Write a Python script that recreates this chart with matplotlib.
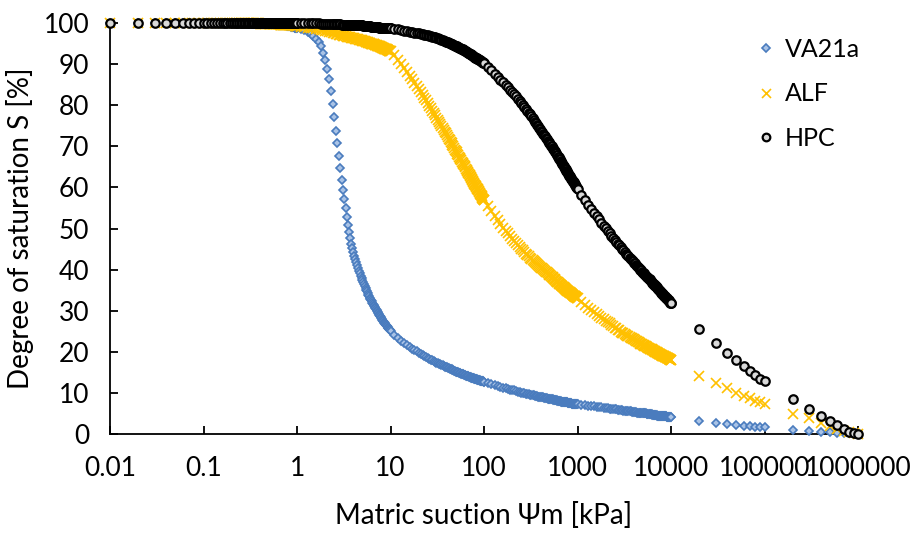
import matplotlib
matplotlib.use("Agg")
import matplotlib.pyplot as plt

plt.rcParams['font.family'] = ['Lato', 'DejaVu Sans']

# Matric suction values (kPa)
psi_kpa = [
    0.01, 0.02, 0.03, 0.04, 0.05, 0.06, 0.07, 0.08, 0.09,
    0.10, 0.11, 0.12, 0.13, 0.14, 0.15, 0.16, 0.17, 0.18, 0.19,
    0.20, 0.21, 0.22, 0.23, 0.24, 0.25, 0.26, 0.27, 0.28, 0.29,
    0.30, 0.31, 0.32, 0.33, 0.34, 0.35, 0.36, 0.37, 0.38, 0.39,
    0.40, 0.41, 0.42, 0.43, 0.44, 0.45, 0.46, 0.47, 0.48, 0.49,
    0.50, 0.51, 0.52, 0.53, 0.54, 0.55, 0.56, 0.57, 0.58, 0.59,
    0.60, 0.61, 0.62, 0.63, 0.64, 0.65, 0.66, 0.67, 0.68, 0.69,
    0.70, 0.71, 0.72, 0.73, 0.74, 0.75, 0.76, 0.77, 0.78, 0.79,
    0.80, 0.81, 0.82, 0.83, 0.84, 0.85, 0.86, 0.87, 0.88, 0.89,
    0.90, 0.91, 0.92, 0.93, 0.94, 0.95, 0.96, 0.97, 0.98, 0.99,
    1.0, 1.1, 1.2, 1.3, 1.4, 1.5, 1.6, 1.7, 1.8, 1.9,
    2.0, 2.1, 2.2, 2.3, 2.4, 2.5, 2.6, 2.7, 2.8, 2.9,
    3.0, 3.1, 3.2, 3.3, 3.4, 3.5, 3.6, 3.7, 3.8, 3.9,
    4.0, 4.1, 4.2, 4.3, 4.4, 4.5, 4.6, 4.7, 4.8, 4.9,
    5.0, 5.1, 5.2, 5.3, 5.4, 5.5, 5.6, 5.7, 5.8, 5.9,
    6.0, 6.1, 6.2, 6.3, 6.4, 6.5, 6.6, 6.7, 6.8, 6.9,
    7.0, 7.1, 7.2, 7.3, 7.4, 7.5, 7.6, 7.7, 7.8, 7.9,
    8.0, 8.1, 8.2, 8.3, 8.4, 8.5, 8.6, 8.7, 8.8, 8.9,
    9.0, 9.1, 9.2, 9.3, 9.4, 9.5, 9.6, 9.7, 9.8, 9.9,
    10, 11, 12, 13, 14, 15, 16, 17, 18, 19,
    20, 21, 22, 23, 24, 25, 26, 27, 28, 29,
    30, 31, 32, 33, 34, 35, 36, 37, 38, 39,
    40, 41, 42, 43, 44, 45, 46, 47, 48, 49,
    50, 51, 52, 53, 54, 55, 56, 57, 58, 59,
    60, 61, 62, 63, 64, 65, 66, 67, 68, 69,
    70, 71, 72, 73, 74, 75, 76, 77, 78, 79,
    80, 81, 82, 83, 84, 85, 86, 87, 88, 89,
    90, 91, 92, 93, 94, 95, 96, 97, 98, 99,
    100, 110, 120, 130, 140, 150, 160, 170, 180, 190,
    200, 210, 220, 230, 240, 250, 260, 270, 280, 290,
    300, 310, 320, 330, 340, 350, 360, 370, 380, 390,
    400, 410, 420, 430, 440, 450, 460, 470, 480, 490,
    500, 510, 520, 530, 540, 550, 560, 570, 580, 590,
    600, 610, 620, 630, 640, 650, 660, 670, 680, 690,
    700, 710, 720, 730, 740, 750, 760, 770, 780, 790,
    800, 810, 820, 830, 840, 850, 860, 870, 880, 890,
    900, 910, 920, 930, 940, 950, 960, 970, 980, 990,
    1000, 1100, 1200, 1300, 1400, 1500, 1600, 1700, 1800, 1900,
    2000, 2100, 2200, 2300, 2400, 2500, 2600, 2700, 2800, 2900,
    3000, 3100, 3200, 3300, 3400, 3500, 3600, 3700, 3800, 3900,
    4000, 4100, 4200, 4300, 4400, 4500, 4600, 4700, 4800, 4900,
    5000, 5100, 5200, 5300, 5400, 5500, 5600, 5700, 5800, 5900,
    6000, 6100, 6200, 6300, 6400, 6500, 6600, 6700, 6800, 6900,
    7000, 7100, 7200, 7300, 7400, 7500, 7600, 7700, 7800, 7900,
    8000, 8100, 8200, 8300, 8400, 8500, 8600, 8700, 8800, 8900,
    9000, 9100, 9200, 9300, 9400, 9500, 9600, 9700, 9800, 9900,
    10000,
    20000, 30000, 40000, 50000, 60000, 70000, 80000, 90000, 100000,
    200000, 300000, 400000, 500000, 600000, 700000, 800000, 900000, 1000000,
]

# Degree of saturation (%) - VA21a
s_va21a = [
    100, 100, 100, 100, 100, 100, 100, 100, 100,
    100, 100, 100, 100, 100, 100, 100, 100, 100, 100,
    100, 100, 100, 100, 100, 100, 100, 100, 100, 100,
    100, 100, 100, 100, 100, 100, 100, 100, 100, 100,
    99.9, 99.9, 99.9, 99.9, 99.9, 99.8, 99.8, 99.8, 99.8, 99.8,
    99.8, 99.7, 99.7, 99.7, 99.7, 99.7, 99.7, 99.7, 99.7, 99.7,
    99.7, 99.6, 99.6, 99.6, 99.6, 99.6, 99.6, 99.6, 99.6, 99.6,
    99.6, 99.5, 99.5, 99.5, 99.5, 99.4, 99.4, 99.4, 99.4, 99.3,
    99.3, 99.3, 99.3, 99.2, 99.2, 99.2, 99.2, 99.1, 99.1, 99.1,
    99.1, 99.0, 99.0, 99.0, 99.0, 98.9, 98.9, 98.9, 98.9, 98.8,
    98.8, 98.5, 98.2, 97.8, 97.3, 96.8, 96.2, 95.4, 94.3, 92.8,
    90.9, 88.9, 86.5, 83.5, 80.2, 77.1, 73.8, 70.7, 67.7, 64.7,
    61.9, 59.4, 57.1, 54.9, 52.8, 50.9, 49.2, 47.7, 46.3, 45.2,
    44.2, 43.4, 42.6, 41.8, 41.1, 40.4, 39.7, 39.1, 38.5, 37.9,
    37.4, 36.9, 36.4, 35.9, 35.5, 35.1, 34.7, 34.3, 33.9, 33.5,
    33.2, 32.9, 32.6, 32.3, 32.0, 31.7, 31.4, 31.1, 30.9, 30.6,
    30.4, 30.1, 29.9, 29.7, 29.5, 29.2, 29.0, 28.8, 28.6, 28.4,
    28.2, 28.0, 27.8, 27.6, 27.5, 27.3, 27.1, 26.9, 26.8, 26.6,
    26.5, 26.3, 26.2, 26.0, 25.9, 25.7, 25.6, 25.5, 25.4, 25.2,
    25.0, 24.1, 23.3, 22.7, 22.1, 21.6, 21.1, 20.8, 20.4, 20.1,
    19.8, 19.5, 19.3, 19.0, 18.8, 18.5, 18.3, 18.1, 17.9, 17.8,
    17.6, 17.4, 17.2, 17.1, 17.0, 16.8, 16.7, 16.6, 16.4, 16.3,
    16.2, 16.1, 16.0, 15.9, 15.8, 15.7, 15.6, 15.5, 15.4, 15.3,
    15.2, 15.1, 15.1, 15.0, 14.9, 14.8, 14.8, 14.7, 14.6, 14.5,
    14.5, 14.4, 14.4, 14.3, 14.2, 14.2, 14.1, 14.0, 14.0, 13.9,
    13.9, 13.8, 13.8, 13.7, 13.7, 13.6, 13.6, 13.6, 13.6, 13.5,
    13.5, 13.4, 13.4, 13.3, 13.3, 13.2, 13.2, 13.1, 13.1, 13.1,
    13.1, 13.0, 13.0, 12.9, 12.9, 12.8, 12.8, 12.8, 12.8, 12.7,
    12.7, 12.4, 12.2, 11.9, 11.7, 11.5, 11.3, 11.1, 11.0, 10.8,
    10.7, 10.6, 10.4, 10.3, 10.2, 10.1, 10.0, 9.9, 9.8, 9.7,
    9.7, 9.6, 9.5, 9.4, 9.4, 9.3, 9.2, 9.2, 9.1, 9.0,
    9.0, 9.0, 8.9, 8.9, 8.8, 8.8, 8.7, 8.7, 8.6, 8.6,
    8.6, 8.5, 8.5, 8.4, 8.4, 8.3, 8.3, 8.3, 8.2, 8.2,
    8.2, 8.1, 8.1, 8.0, 8.0, 8.0, 8.0, 7.9, 7.9, 7.9,
    7.9, 7.8, 7.8, 7.8, 7.8, 7.7, 7.7, 7.7, 7.7, 7.6,
    7.6, 7.6, 7.6, 7.5, 7.5, 7.5, 7.5, 7.4, 7.4, 7.4,
    7.4, 7.4, 7.4, 7.3, 7.3, 7.3, 7.3, 7.3, 7.3, 7.3,
    7.3, 7.1, 7.0, 6.9, 6.8, 6.7, 6.6, 6.5, 6.5, 6.4,
    6.3, 6.3, 6.2, 6.1, 6.1, 6.0, 6.0, 5.9, 5.9, 5.8,
    5.8, 5.7, 5.7, 5.6, 5.6, 5.6, 5.5, 5.5, 5.4, 5.4,
    5.4, 5.3, 5.3, 5.2, 5.2, 5.2, 5.2, 5.1, 5.1, 5.1,
    5.1, 5.0, 5.0, 5.0, 5.0, 4.9, 4.9, 4.9, 4.9, 4.8,
    4.8, 4.8, 4.8, 4.7, 4.7, 4.7, 4.7, 4.6, 4.6, 4.6,
    4.6, 4.5, 4.5, 4.5, 4.5, 4.5, 4.5, 4.4, 4.4, 4.4,
    4.4, 4.4, 4.4, 4.3, 4.3, 4.3, 4.3, 4.3, 4.3, 4.3,
    4.2, 4.2, 4.2, 4.2, 4.2, 4.2, 4.1, 4.1, 4.1, 4.1,
    4.1,
    3.2, 2.8, 2.4, 2.1, 2.0, 1.9, 1.7, 1.6, 1.6,
    1.1, 0.8, 0.6, 0.45, 0.35, 0.25, 0.15, 0.07, 0.0,
]

# Degree of saturation (%) - ALF
s_alf = [
    100, 100, 100, 100, 100, 100, 100, 100, 100,
    100, 100, 100, 100, 100, 100, 100, 100, 100, 100,
    100, 100, 100, 100, 100, 100, 100, 100, 100, 100,
    99.9, 99.9, 99.9, 99.9, 99.9, 99.9, 99.9, 99.9, 99.9, 99.9,
    99.8, 99.8, 99.8, 99.8, 99.8, 99.8, 99.8, 99.8, 99.8, 99.8,
    99.8, 99.8, 99.7, 99.7, 99.7, 99.7, 99.7, 99.7, 99.7, 99.7,
    99.7, 99.7, 99.7, 99.7, 99.7, 99.7, 99.6, 99.6, 99.6, 99.6,
    99.6, 99.6, 99.6, 99.6, 99.6, 99.6, 99.6, 99.6, 99.6, 99.6,
    99.5, 99.5, 99.5, 99.5, 99.5, 99.5, 99.5, 99.5, 99.5, 99.5,
    99.4, 99.4, 99.4, 99.4, 99.4, 99.4, 99.3, 99.3, 99.3, 99.3,
    99.2, 99.1, 99.0, 98.9, 98.8, 98.7, 98.6, 98.5, 98.3, 98.2,
    98.1, 98.0, 97.8, 97.7, 97.6, 97.5, 97.4, 97.3, 97.2, 97.1,
    97.0, 96.9, 96.9, 96.8, 96.7, 96.6, 96.6, 96.5, 96.4, 96.4,
    96.3, 96.3, 96.2, 96.1, 96.0, 96.0, 95.9, 95.9, 95.8, 95.8,
    95.7, 95.7, 95.6, 95.6, 95.5, 95.4, 95.3, 95.3, 95.2, 95.2,
    95.1, 95.1, 95.0, 95.0, 94.9, 94.9, 94.8, 94.8, 94.7, 94.7,
    94.6, 94.6, 94.5, 94.5, 94.4, 94.4, 94.3, 94.3, 94.2, 94.2,
    94.1, 94.1, 94.0, 94.0, 93.9, 93.9, 93.8, 93.8, 93.7, 93.7,
    93.6, 93.6, 93.5, 93.5, 93.4, 93.4, 93.3, 93.3, 93.3, 93.2,
    93.2, 92.1, 91.1, 90.1, 89.0, 88.1, 87.2, 86.3, 85.5, 84.7,
    84.0, 83.2, 82.5, 81.8, 81.2, 80.6, 79.9, 79.3, 78.7, 78.1,
    77.6, 77.0, 76.5, 76.0, 75.5, 75.0, 74.5, 74.0, 73.6, 73.2,
    72.7, 72.3, 71.9, 71.5, 71.1, 70.7, 70.3, 70.0, 69.6, 69.2,
    68.8, 68.5, 68.2, 67.8, 67.5, 67.2, 66.9, 66.6, 66.3, 66.0,
    65.7, 65.4, 65.1, 64.9, 64.6, 64.3, 64.0, 63.8, 63.5, 63.3,
    63.0, 62.8, 62.5, 62.3, 62.0, 61.8, 61.6, 61.4, 61.1, 60.9,
    60.7, 60.5, 60.3, 60.1, 59.9, 59.7, 59.5, 59.3, 59.1, 58.9,
    58.7, 58.5, 58.2, 58.1, 57.9, 57.7, 57.5, 57.3, 57.1, 57.0,
    56.9, 55.6, 54.2, 53.1, 52.0, 51.1, 50.2, 49.5, 48.8, 48.1,
    47.5, 47.0, 46.5, 46.0, 45.5, 45.0, 44.7, 44.3, 43.9, 43.6,
    43.2, 42.9, 42.6, 42.3, 42.0, 41.8, 41.6, 41.3, 41.1, 40.9,
    40.7, 40.5, 40.3, 40.1, 39.9, 39.7, 39.5, 39.4, 39.2, 39.0,
    38.7, 38.6, 38.4, 38.3, 38.1, 38.0, 37.8, 37.7, 37.5, 37.3,
    37.1, 37.0, 36.9, 36.8, 36.6, 36.5, 36.3, 36.2, 36.1, 35.9,
    35.8, 35.7, 35.6, 35.5, 35.4, 35.3, 35.1, 35.0, 34.9, 34.8,
    34.7, 34.6, 34.5, 34.5, 34.4, 34.3, 34.2, 34.1, 34.0, 33.9,
    33.8, 33.7, 33.6, 33.6, 33.5, 33.4, 33.3, 33.3, 33.2, 33.1,
    33.0, 32.2, 31.4, 30.7, 30.2, 29.6, 29.1, 28.7, 28.3, 27.9,
    27.6, 27.2, 26.9, 26.5, 26.2, 25.9, 25.7, 25.4, 25.2, 24.9,
    24.7, 24.5, 24.3, 24.1, 23.9, 23.8, 23.6, 23.4, 23.3, 23.1,
    23.0, 22.9, 22.7, 22.6, 22.4, 22.3, 22.2, 22.0, 21.9, 21.8,
    21.7, 21.6, 21.5, 21.4, 21.3, 21.2, 21.1, 21.0, 20.9, 20.8,
    20.7, 20.7, 20.6, 20.5, 20.4, 20.3, 20.2, 20.1, 20.0, 20.0,
    19.9, 19.8, 19.7, 19.6, 19.5, 19.5, 19.4, 19.4, 19.3, 19.3,
    19.2, 19.1, 19.0, 19.0, 18.9, 18.9, 18.8, 18.8, 18.7, 18.7,
    18.6, 18.5, 18.4, 18.4, 18.3, 18.3, 18.2, 18.2, 18.1, 18.1,
    18.0,
    14.1, 12.3, 11.1, 10.1, 9.3, 8.7, 8.1, 7.7, 7.3,
    4.9, 3.8, 2.6, 1.9, 1.3, 0.8, 0.5, 0.2, 0.0,
]

# Degree of saturation (%) - HPC
s_hpc = [
    100, 100, 100, 100, 100, 100, 100, 100, 100,
    100, 100, 100, 100, 100, 100, 100, 100, 100, 100,
    100, 100, 100, 100, 100, 100, 100, 100, 100, 100,
    100, 100, 100, 100, 100, 100, 100, 100, 100, 100,
    100, 100, 100, 100, 100, 100, 100, 100, 100, 100,
    100, 100, 100, 100, 100, 100, 100, 100, 100, 100,
    100, 100, 100, 100, 100, 100, 100, 100, 100, 100,
    100, 100, 100, 100, 100, 100, 100, 100, 100, 100,
    100, 100, 100, 100, 100, 100, 100, 100, 100, 100,
    100, 100, 100, 100, 100, 100, 100, 100, 100, 100,
    100.0, 100.0, 99.9, 99.9, 99.9, 99.9, 99.9, 99.9, 99.8, 99.8,
    99.8, 99.8, 99.8, 99.8, 99.8, 99.7, 99.7, 99.7, 99.7, 99.7,
    99.6, 99.6, 99.6, 99.6, 99.6, 99.6, 99.5, 99.5, 99.5, 99.5,
    99.5, 99.5, 99.4, 99.4, 99.4, 99.4, 99.4, 99.4, 99.4, 99.4,
    99.4, 99.3, 99.3, 99.3, 99.3, 99.3, 99.2, 99.2, 99.2, 99.2,
    99.2, 99.2, 99.1, 99.1, 99.1, 99.1, 99.1, 99.1, 99.0, 99.0,
    99.0, 99.0, 99.0, 99.0, 99.0, 99.0, 98.9, 98.9, 98.9, 98.9,
    98.9, 98.9, 98.9, 98.9, 98.9, 98.9, 98.9, 98.9, 98.9, 98.9,
    98.8, 98.8, 98.8, 98.8, 98.8, 98.8, 98.8, 98.8, 98.8, 98.8,
    98.8, 98.6, 98.5, 98.3, 98.1, 98.0, 97.9, 97.8, 97.6, 97.5,
    97.5, 97.4, 97.3, 97.2, 97.1, 97.0, 96.9, 96.8, 96.7, 96.6,
    96.5, 96.4, 96.3, 96.2, 96.0, 95.9, 95.8, 95.7, 95.6, 95.5,
    95.4, 95.3, 95.2, 95.1, 95.0, 94.9, 94.8, 94.7, 94.6, 94.5,
    94.4, 94.3, 94.2, 94.1, 94.0, 94.0, 93.9, 93.8, 93.7, 93.6,
    93.5, 93.4, 93.3, 93.2, 93.1, 93.0, 92.9, 92.8, 92.7, 92.6,
    92.5, 92.5, 92.4, 92.3, 92.2, 92.1, 92.0, 91.9, 91.8, 91.8,
    91.7, 91.6, 91.5, 91.5, 91.4, 91.3, 91.2, 91.2, 91.1, 91.0,
    90.9, 90.9, 90.8, 90.7, 90.6, 90.6, 90.5, 90.4, 90.3, 90.3,
    90.2, 89.3, 88.5, 87.7, 86.9, 86.2, 85.6, 85.0, 84.4, 83.8,
    83.3, 82.7, 82.2, 81.6, 81.1, 80.6, 80.0, 79.6, 79.1, 78.6,
    78.2, 77.8, 77.3, 76.9, 76.5, 76.0, 75.6, 75.2, 74.9, 74.5,
    74.1, 73.8, 73.4, 73.1, 72.7, 72.4, 72.0, 71.7, 71.4, 71.1,
    70.8, 70.5, 70.2, 70.0, 69.7, 69.4, 69.1, 68.9, 68.6, 68.3,
    68.0, 67.8, 67.5, 67.3, 67.0, 66.8, 66.5, 66.3, 66.0, 65.8,
    65.5, 65.3, 65.0, 64.8, 64.6, 64.4, 64.1, 63.9, 63.7, 63.5,
    63.3, 63.1, 62.9, 62.7, 62.5, 62.3, 62.1, 61.9, 61.7, 61.5,
    61.3, 61.2, 61.0, 60.8, 60.6, 60.5, 60.3, 60.1, 59.9, 59.8,
    59.6, 58.2, 57.0, 55.8, 54.8, 53.8, 53.0, 52.2, 51.4, 50.7,
    50.1, 49.5, 48.9, 48.3, 47.8, 47.3, 46.8, 46.3, 45.9, 45.4,
    45.0, 44.7, 44.3, 43.9, 43.6, 43.3, 42.9, 42.6, 42.3, 42.0,
    41.7, 41.5, 41.2, 41.0, 40.7, 40.5, 40.2, 40.0, 39.8, 39.5,
    39.3, 39.1, 38.9, 38.7, 38.5, 38.3, 38.1, 37.9, 37.7, 37.6,
    37.4, 37.2, 37.0, 36.8, 36.6, 36.5, 36.3, 36.2, 36.0, 35.9,
    35.7, 35.6, 35.4, 35.3, 35.1, 35.0, 34.8, 34.7, 34.5, 34.4,
    34.2, 34.1, 34.0, 33.9, 33.7, 33.6, 33.5, 33.4, 33.2, 33.1,
    33.0, 32.9, 32.7, 32.6, 32.5, 32.4, 32.3, 32.2, 32.0, 31.9,
    31.8,
    25.5, 22.1, 19.8, 18.0, 16.5, 15.3, 14.3, 13.5, 12.9,
    8.5, 6.2, 4.5, 3.2, 2.1, 1.2, 0.6, 0.3, 0.0,
]

x_ticks = [0.01, 0.1, 1, 10, 100, 1000, 10000, 100000, 1000000]
x_tick_labels = ['0.01', '0.1', '1', '10', '100', '1000', '10000', '100000', '1000000']
y_ticks = [0, 10, 20, 30, 40, 50, 60, 70, 80, 90, 100]

for name, s in (('VA21a', s_va21a), ('ALF', s_alf), ('HPC', s_hpc)):
    if len(s) != len(psi_kpa):
        raise ValueError(f"{name}: {len(s)} vs {len(psi_kpa)}")

fig = plt.figure(figsize=(9.10, 5.33), dpi=100)
ax = fig.add_axes([0.1209, 0.1857, 0.8220, 0.7711])

ax.plot(psi_kpa, s_va21a, linestyle='none', marker='D', markersize=4.0,
        markerfacecolor='#A9C3E6', markeredgecolor='#4A7CBE', markeredgewidth=1.2,
        label='VA21a', clip_on=False, zorder=3, snap=False)
ax.plot(psi_kpa, s_alf, linestyle='none', marker='x', markersize=7.2,
        color='#FFC000', markeredgewidth=1.2, label='ALF', clip_on=False, zorder=4,
        snap=False)
ax.plot(psi_kpa, s_hpc, linestyle='none', marker='o', markersize=6.1,
        markerfacecolor='#D9D9D9', markeredgecolor='black', markeredgewidth=1.6,
        label='HPC', clip_on=False, zorder=5, snap=False)

ax.set_xscale('log')
ax.set_xlim(0.01, 1000000)
ax.set_ylim(0, 100)
ax.set_xticks(x_ticks)
ax.set_xticklabels(x_tick_labels)
ax.minorticks_off()
ax.set_yticks(y_ticks)

for side in ('top', 'right'):
    ax.spines[side].set_visible(False)
for side in ('left', 'bottom'):
    ax.spines[side].set_linewidth(1.3)
    ax.spines[side].set_color('black')

ax.tick_params(axis='both', which='major', direction='in', length=5.5, width=1.3,
               labelsize=19, colors='black')
ax.tick_params(axis='x', pad=16)
ax.tick_params(axis='y', pad=15)

ax.set_xlabel('Matric suction Ψm [kPa]', fontsize=20, labelpad=15)
ax.set_ylabel('Degree of saturation S [%]', fontsize=20, labelpad=7)

leg = ax.legend(loc='upper left', bbox_to_anchor=(0.812, 0.962), bbox_transform=fig.transFigure,
                frameon=False, fontsize=18, handlelength=0.8, handletextpad=0.35,
                labelspacing=0.86, borderpad=0.2, markerscale=0.9)

fig.savefig('out.png', dpi=100)
